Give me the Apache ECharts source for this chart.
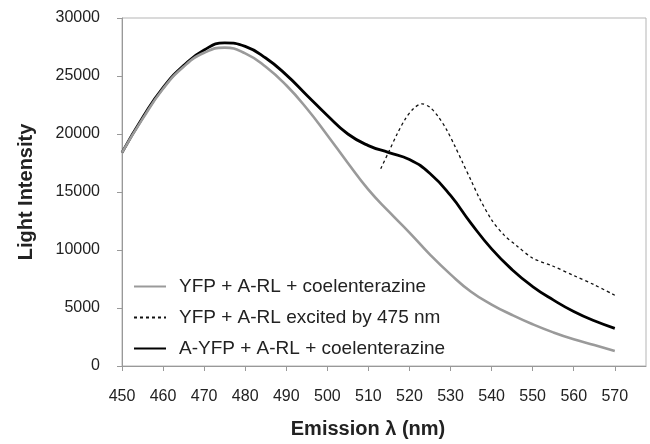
<!DOCTYPE html>
<html>
<head>
<meta charset="utf-8">
<script src="https://cdn.jsdelivr.net/npm/echarts@6/dist/echarts.min.js"></script>
<style>
  html, body { margin: 0; padding: 0; background: #fff; }
</style>
</head>
<body>
<div id="main" style="width: 650px;height:444px;"></div>
<script>
// wavelength (nm) for the two coelenterazine spectra
var wavelength = [450, 455, 460, 465, 470, 475, 480, 485, 490, 495, 500, 505, 510,
  515, 520, 525, 530, 535, 540, 545, 550, 555, 560, 565, 570]
var yfpArl = [18400, 21300, 23900, 25800, 27000, 27450, 26950, 25800, 24200, 22200, 19900, 17500, 15200,
  13300, 11500, 9600, 7900, 6400, 5300, 4400, 3600, 2900, 2300, 1800, 1300]
var aYfpArl = [18400, 21400, 24000, 25900, 27250, 27850, 27550, 26550, 25100, 23350, 21600, 20000, 19000,
  18400, 17800, 16600, 14700, 12300, 10100, 8300, 6850, 5700, 4700, 3900, 3250]
// excited by 475 nm, only measured from ~513 nm
var excitedX = [513, 515, 517, 519, 521, 523, 525, 527, 529, 531, 533, 535, 537, 540, 543, 546,
  550, 555, 560, 565, 570]
var excitedY = [17000, 18500, 20000, 21300, 22200, 22600, 22300, 21500, 20400, 19000, 17500, 16000, 14500, 12600, 11300, 10400,
  9300, 8600, 7800, 7000, 6100]
var xTicks = [450, 460, 470, 480, 490, 500, 510, 520, 530, 540, 550, 560, 570]

var names = ['YFP + A-RL + coelenterazine', 'YFP + A-RL excited by 475 nm', 'A-YFP + A-RL + coelenterazine']

function pairs(xs, ys) {
  return xs.map(function (x, i) { return [x, ys[i]] })
}

var font = 'Arial, "Liberation Sans", sans-serif'
var myChart = echarts.init(document.getElementById('main'))

myChart.setOption({
  animation: false,
  grid: {
    left: 122,
    top: 18,
    right: 4,
    bottom: 78,
    show: true,
    borderColor: '#b5b5b5',
    borderWidth: 1
  },
  legend: {
    orient: 'vertical',
    left: 128,
    top: 272,
    itemWidth: 32,
    itemHeight: 14,
    itemGap: 12,
    data: names,
    // hide the symbol ECharts puts in the middle of line icons
    itemStyle: { opacity: 0 },
    textStyle: {
      fontSize: 19,
      fontFamily: font,
      color: '#222',
      padding: [0, 0, 0, 8]
    }
  },
  xAxis: {
    type: 'value',
    min: 450,
    max: 577.6,
    splitLine: { show: false },
    axisLine: { lineStyle: { color: '#999' } },
    axisTick: { length: 5, lineStyle: { color: '#999' }, customValues: xTicks },
    axisLabel: {
      customValues: xTicks,
      fontSize: 16,
      fontFamily: font,
      color: '#222',
      margin: 23
    }
  },
  yAxis: {
    type: 'value',
    min: 0,
    max: 30000,
    interval: 5000,
    name: 'Light Intensity',
    nameLocation: 'middle',
    nameGap: 86,
    nameTextStyle: {
      fontSize: 20,
      fontWeight: 'bold',
      fontFamily: font,
      color: '#222'
    },
    splitLine: { show: false },
    axisLine: { show: true, lineStyle: { color: '#999' } },
    axisTick: { show: true, length: 5, lineStyle: { color: '#999' } },
    axisLabel: {
      fontSize: 16,
      fontFamily: font,
      color: '#222',
      margin: 22,
      formatter: function (v) { return String(v) }
    }
  },
  graphic: [
    {
      type: 'text',
      x: 368,
      y: 429,
      style: {
        text: 'Emission λ (nm)',
        font: 'bold 20px ' + font,
        fill: '#222',
        align: 'center',
        verticalAlign: 'middle'
      }
    }
  ],
  series: [
    {
      name: names[0],
      type: 'line',
      smooth: true,
      showSymbol: false,
      symbol: 'none',
      lineStyle: { color: '#9a9a9a', width: 2.6 },
      itemStyle: { color: '#9a9a9a' },
      data: pairs(wavelength, yfpArl),
      z: 2
    },
    {
      name: names[1],
      type: 'line',
      smooth: 0.3,
      showSymbol: false,
      symbol: 'none',
      lineStyle: { color: '#111', width: 1.3, type: [3, 3] },
      itemStyle: { color: '#111' },
      data: pairs(excitedX, excitedY),
      z: 3
    },
    {
      name: names[2],
      type: 'line',
      smooth: true,
      showSymbol: false,
      symbol: 'none',
      lineStyle: { color: '#000', width: 2.8 },
      itemStyle: { color: '#000' },
      data: pairs(wavelength, aYfpArl),
      z: 1
    }
  ]
})
</script>
</body>
</html>
